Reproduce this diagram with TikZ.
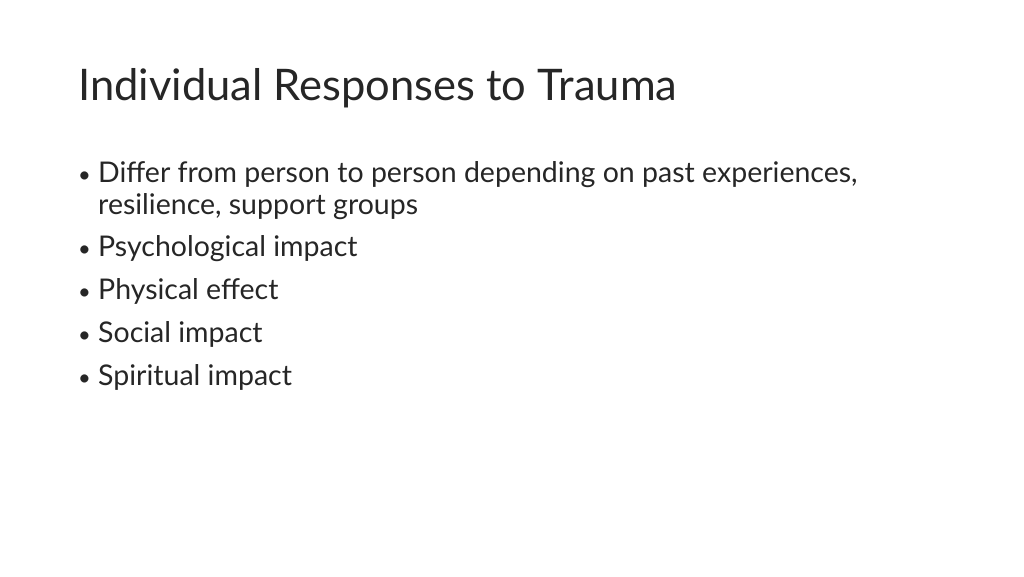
\documentclass[tikz,border=0pt]{standalone}
\usepackage{fontspec}
\setmainfont{Lato}
\begin{document}
\begin{tikzpicture}[x=1pt,y=-1pt,
  txt/.style={anchor=base west,inner sep=0pt,font=\fontsize{28.5}{32}\selectfont,text=black!85},
  bul/.style={anchor=base west,inner sep=0pt,font=\fontsize{22}{28}\selectfont,text=black!85}]
\useasboundingbox[fill=white] (0,0) rectangle (1024,576);
\node[anchor=base west,inner sep=0pt,font=\fontsize{43.5}{48}\selectfont,text=black!85] (title) at (78,100) {Individual Responses to Trauma};
\node[bul] (b1) at (78,182) {•};
\node[txt] (t1) at (98,182) {Differ from person to person depending on past experiences,};
\node[txt] (t1b) at (98,214) {resilience, support groups};
\node[bul] (b2) at (78,256) {•};
\node[txt] (t2) at (98,256) {Psychological impact};
\node[bul] (b3) at (78,299) {•};
\node[txt] (t3) at (98,299) {Physical effect};
\node[bul] (b4) at (78,342) {•};
\node[txt] (t4) at (98,342) {Social impact};
\node[bul] (b5) at (78,385) {•};
\node[txt] (t5) at (98,385) {Spiritual impact};
\end{tikzpicture}
\end{document}
